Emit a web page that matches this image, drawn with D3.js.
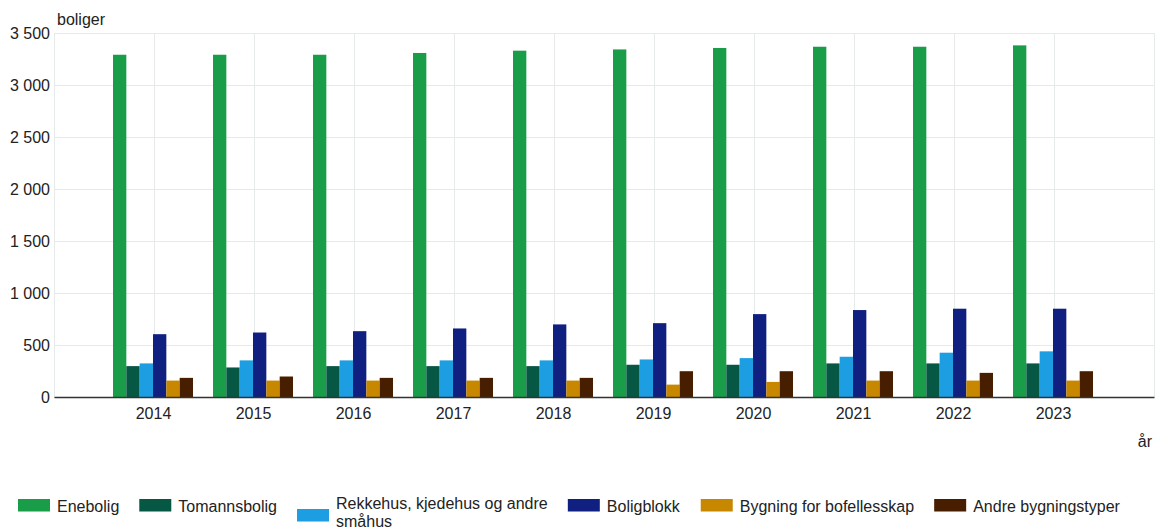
<!DOCTYPE html>
<html>
<head>
<meta charset="utf-8">
<script src="https://cdn.jsdelivr.net/npm/d3@7"></script>
<style>
  body { margin: 0; background: #fff; }
  text { font-family: "Liberation Sans", Arial, sans-serif; fill: #222; }
</style>
</head>
<body>
<script>
var svgWidth = 1155;
var svgHeight = 529;

// data
var years = [2014, 2015, 2016, 2017, 2018, 2019, 2020, 2021, 2022, 2023];
var seriesNames = ["Enebolig", "Tomannsbolig", "Rekkehus, kjedehus og andre småhus",
  "Boligblokk", "Bygning for bofellesskap", "Andre bygningstyper"];
var seriesColors = ["#1a9d49", "#075745", "#1d9de2", "#0f2080", "#c78800", "#471f00"];
var enebolig = [3291, 3291, 3291, 3308, 3330, 3342, 3356, 3368, 3368, 3381];
var tomannsbolig = [297, 284, 297, 297, 297, 310, 310, 323, 323, 323];
var rekkehus = [323, 352, 352, 352, 352, 361, 374, 387, 426, 439];
var boligblokk = [604, 620, 633, 659, 698, 710, 797, 836, 849, 849];
var bofellesskap = [158, 158, 158, 158, 158, 119, 145, 158, 158, 158];
var andre = [184, 197, 184, 184, 184, 248, 248, 248, 232, 248];
var yTicks = [0, 500, 1000, 1500, 2000, 2500, 3000, 3500];

var seriesValues = [enebolig, tomannsbolig, rekkehus, boligblokk, bofellesskap, andre];

var margin = { top: 33, right: 1, bottom: 132, left: 54 };
var width = svgWidth - margin.left - margin.right;
var height = svgHeight - margin.top - margin.bottom;

var svg = d3.select("body")
  .append("svg")
  .attr("width", svgWidth)
  .attr("height", svgHeight);

var chartGroup = svg.append("g")
  .attr("transform", `translate(${margin.left}, ${margin.top})`);

// x is a continuous year axis with one empty year on each side
var xScale = d3.scaleLinear()
  .domain([years[0] - 1, years[years.length - 1] + 1])
  .range([0, width]);

var xSub = d3.scaleBand()
  .domain(d3.range(seriesNames.length))
  .range([-41, 39]);

var yScale = d3.scaleLinear()
  .domain([0, 3500])
  .range([height, 0]);

var nbFormat = d3.formatLocale({ decimal: ",", thousands: "\u00a0", grouping: [3], currency: ["", " kr"] }).format(",d");

// horizontal gridlines
chartGroup.append("g")
  .selectAll("line")
  .data(yTicks)
  .join("line")
  .attr("x1", 0)
  .attr("x2", width)
  .attr("y1", d => Math.round(yScale(d)) + 0.5)
  .attr("y2", d => Math.round(yScale(d)) + 0.5)
  .attr("stroke", "#e6eaea")
  .attr("stroke-width", 1);

// vertical gridlines
chartGroup.append("g")
  .selectAll("line")
  .data(d3.range(years[0] - 1, years[years.length - 1] + 2))
  .join("line")
  .attr("x1", d => Math.round(xScale(d)) + 0.5)
  .attr("x2", d => Math.round(xScale(d)) + 0.5)
  .attr("y1", 0)
  .attr("y2", height)
  .attr("stroke", "#e6eaea")
  .attr("stroke-width", 1);

// bars
var rows = [];
years.forEach(function(year, i) {
  seriesValues.forEach(function(vals, s) {
    rows.push({ year: year, s: s, value: vals[i] });
  });
});

chartGroup.append("g")
  .selectAll("rect")
  .data(rows)
  .join("rect")
  .attr("x", d => xScale(d.year) + xSub(d.s))
  .attr("width", xSub.bandwidth())
  .attr("y", d => yScale(d.value))
  .attr("height", d => height - yScale(d.value))
  .attr("fill", d => seriesColors[d.s]);

// y axis labels
var leftAxis = d3.axisLeft(yScale)
  .tickValues(yTicks)
  .tickFormat(nbFormat)
  .tickSize(0)
  .tickPadding(4);

var yAxisG = chartGroup.append("g").call(leftAxis);
yAxisG.select(".domain").remove();
yAxisG.selectAll("text")
  .attr("font-size", 16)
  .attr("fill", "#222")
  .style("font-family", "'Liberation Sans', Arial, sans-serif");

// x axis
var bottomAxis = d3.axisBottom(xScale)
  .tickValues(years)
  .tickFormat(d3.format("d"))
  .tickSize(0)
  .tickPadding(11);

var xAxisG = chartGroup.append("g")
  .attr("transform", `translate(0, ${height})`)
  .call(bottomAxis);
xAxisG.select(".domain")
  .attr("stroke", "#333")
  .attr("stroke-width", 1.5);
xAxisG.selectAll("text")
  .attr("font-size", 16)
  .attr("fill", "#222")
  .attr("dx", -1)
  .style("font-family", "'Liberation Sans', Arial, sans-serif");

// axis titles
svg.append("text")
  .attr("x", 57)
  .attr("y", 25)
  .attr("font-size", 16)
  .text("boliger");

svg.append("text")
  .attr("x", 1152)
  .attr("y", 447)
  .attr("text-anchor", "end")
  .attr("font-size", 16)
  .text("år");

// legend, laid out left to right with wrapping of long labels
var legend = svg.append("g");
var lx = 18;
var maxTextWidth = 225;
seriesNames.forEach(function(name, i) {
  var item = legend.append("g");
  var txt = item.append("text")
    .attr("font-size", 16)
    .attr("x", lx + 39);

  // word wrap
  var words = name.split(" ");
  var lines = [];
  var line = [];
  words.forEach(function(w) {
    line.push(w);
    txt.text(line.join(" "));
    if (txt.node().getComputedTextLength() > maxTextWidth && line.length > 1) {
      line.pop();
      lines.push(line.join(" "));
      line = [w];
    }
  });
  lines.push(line.join(" "));
  txt.text(null);

  var baseY = lines.length > 1 ? 509 : 511.5;
  lines.forEach(function(l, k) {
    txt.append("tspan")
      .attr("x", lx + 39)
      .attr("y", baseY + k * 18)
      .text(l);
  });

  var symY = lines.length > 1 ? 509 : 499;
  item.append("rect")
    .attr("x", lx)
    .attr("y", symY)
    .attr("width", 32)
    .attr("height", 12.5)
    .attr("fill", seriesColors[i]);

  var textW = txt.node().getBBox().width;
  lx += 39 + textW + 20;
});
</script>
</body>
</html>
